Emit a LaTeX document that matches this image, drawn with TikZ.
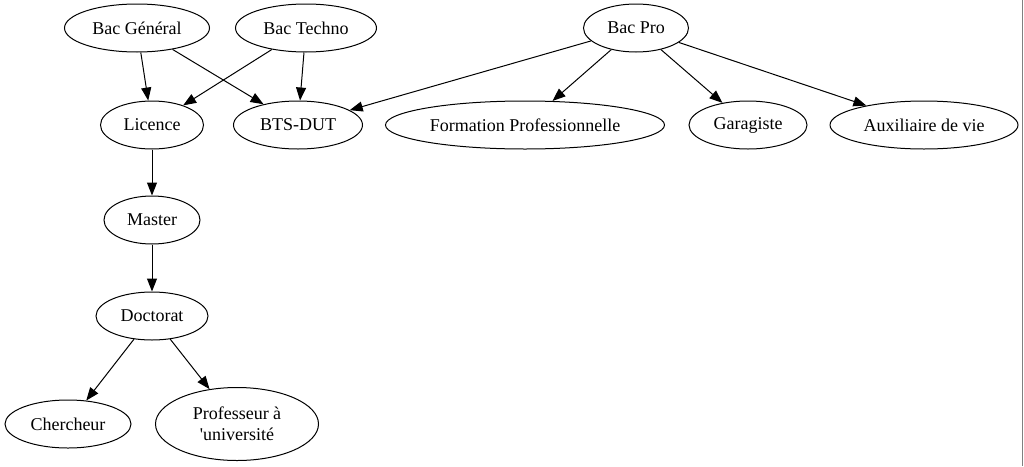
\documentclass[tikz,border=0pt]{standalone}
\usepackage{fontspec}
\setmainfont{Liberation Serif}
\usetikzlibrary{shapes.geometric,arrows.meta}
\tikzset{
  etape/.style={ellipse, draw, line width=1pt, inner sep=0pt, minimum height=48pt,
    font=\fontsize{18}{21}\selectfont},
  lien/.style={line width=1pt, -{Triangle[length=13pt,width=10pt]}}
}
\begin{document}
\begin{tikzpicture}[x=1pt,y=-1pt]
\useasboundingbox (0,0) rectangle (1024,466);
\node[etape, minimum width=145pt] (bacgen) at (137,28){Bac Général};
\node[etape, minimum width=141pt] (bactech) at (306,28){Bac Techno};
\node[etape, minimum width=105pt] (bacpro) at (636,28){Bac Pro};
\node[etape, minimum width=103pt] (licence) at (152,125){Licence};
\node[etape, minimum width=129pt] (btsdut) at (298,125){BTS-DUT};
\node[etape, minimum width=279pt] (formpro) at (525,125){Formation Professionnelle};
\node[etape, minimum width=118pt] (garag) at (748,125){Garagiste};
\node[etape, minimum width=188pt] (auxvie) at (924,125){Auxiliaire de vie};
\node[etape, minimum width=96pt] (master) at (152,220){Master};
\node[etape, minimum width=112pt] (doctorat) at (152,316){Doctorat};
\node[etape, minimum width=126pt] (cherch) at (68,424){Chercheur};
\node[etape, minimum width=163pt, minimum height=73pt, align=center] (prof) at (237,424){Professeur à\\ \textquotesingle université};
\draw[lien](bacgen) -- (licence);
\draw[lien](bacgen) -- (btsdut);
\draw[lien](bactech) -- (licence);
\draw[lien](bactech) -- (btsdut);
\draw[lien](bacpro) -- (btsdut);
\draw[lien](bacpro) -- (formpro);
\draw[lien](bacpro) -- (garag);
\draw[lien](bacpro) -- (auxvie);
\draw[lien](licence) -- (master);
\draw[lien](master) -- (doctorat);
\draw[lien](doctorat) -- (cherch);
\draw[lien](doctorat) -- (prof);
\draw[gray, line width=1.5pt] (1022.5,0) -- (1022.5,466);
\end{tikzpicture}
\end{document}
